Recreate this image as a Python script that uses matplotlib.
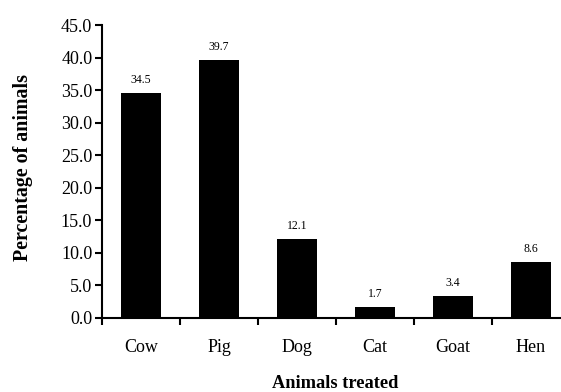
import numpy as np
import matplotlib.pyplot as plt

animals = ['Cow', 'Pig', 'Dog', 'Cat', 'Goat', 'Hen']
percent = [34.5, 39.7, 12.1, 1.7, 3.4, 8.6]

plt.rcParams['font.family'] = ['Liberation Serif', 'DejaVu Serif']

fig = plt.figure(figsize=(5.61, 3.92), dpi=100)
ax = fig.add_axes([102/561, 1 - 318/392, 468/561, 293/392])

x = np.arange(len(animals))
ax.bar(x, percent, width=0.51, color='black')
for xi, v in zip(x, percent):
    ax.annotate(f'{v:.1f}', (xi, v), xytext=(0, 13), textcoords='offset pixels',
                ha='center', va='center', fontsize=8.5)

ax.set_xlim(-0.5, len(animals) - 0.5)
ax.set_ylim(0, 45)
yt = np.arange(0, 46, 5)
ax.set_yticks(yt)
ax.set_yticklabels([f'{t:.1f}' for t in yt], fontsize=13)
ax.set_xticks(np.arange(-0.5, len(animals), 1))
ax.set_xticklabels([])
ax.set_xticks(x, minor=True)
ax.set_xticklabels(animals, minor=True, fontsize=13)
ax.tick_params(axis='x', which='minor', length=0, pad=15)
ax.tick_params(axis='x', which='major', direction='out', length=5, width=1.5)
ax.tick_params(axis='y', direction='out', length=5, width=1.5, pad=2)

for s in ['top', 'right']:
    ax.spines[s].set_visible(False)
for s in ['left', 'bottom']:
    ax.spines[s].set_linewidth(1.5)

ax.set_ylabel('Percentage of animals', fontsize=14.4, fontweight='bold', va='center')
ax.yaxis.set_label_coords(-0.169, 0.515)
ax.set_xlabel('Animals treated', fontsize=13.2, fontweight='bold', va='center')
ax.xaxis.set_label_coords(0.498, -0.222)

fig.savefig('out.png', dpi=100)
